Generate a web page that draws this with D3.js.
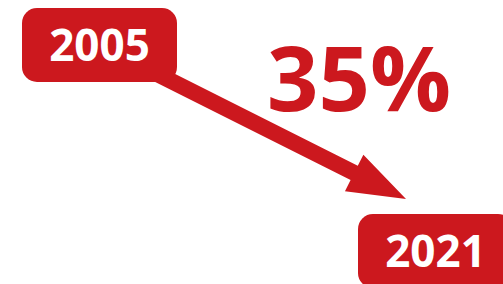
<!DOCTYPE html>
<html>
<head>
<meta charset="utf-8">
<script src="https://cdn.jsdelivr.net/npm/d3@7"></script>
<style>
  html, body { margin: 0; padding: 0; background: #fff; }
  svg { display: block; }
</style>
</head>
<body>
<div id="wrapper"></div>
<script>
// data
const years = [2005, 2021];
const yearLabels = ["2005", "2021"];
const change = [35];   // percent

const width = 503, height = 284;
const red = "#cc181e";

const boxW = 155, boxH = 74, boxR = 15;

// year -> box centre
const x = d3.scaleLinear().domain(years).range([99.5, 435.5]);
const y = d3.scaleLinear().domain(years).range([45, 251]);

const svg = d3.select("#wrapper").append("svg")
  .attr("width", width)
  .attr("height", height);

// arrow from first box centre to a point just above-left of the second box
const start = [x(years[0]), y(years[0])];
const tip = [x(years[1]) - boxW / 2 + 48, y(years[1]) - boxH / 2 - 15];

const arrowPath = (a, b) => {
  const dx = b[0] - a[0], dy = b[1] - a[1];
  const len = Math.hypot(dx, dy);
  const ux = dx / len, uy = dy / len;
  const px = -uy, py = ux;
  const sw = 8, hw = 20.5, hl = 58;
  const bx = b[0] - ux * hl, by = b[1] - uy * hl;
  const pts = [
    [a[0] + px * sw, a[1] + py * sw],
    [bx + px * sw, by + py * sw],
    [bx + px * hw, by + py * hw],
    b,
    [bx - px * hw, by - py * hw],
    [bx - px * sw, by - py * sw],
    [a[0] - px * sw, a[1] - py * sw]
  ];
  return "M" + pts.map(p => p.join(",")).join("L") + "Z";
};

svg.append("path")
  .attr("d", arrowPath(start, tip))
  .attr("fill", red);

const box = svg.append("g")
  .selectAll("g")
  .data(years)
  .join("g")
  .attr("transform", d => `translate(${x(d)},${y(d)})`);

box.append("rect")
  .attr("x", -boxW / 2)
  .attr("y", -boxH / 2)
  .attr("width", boxW)
  .attr("height", boxH)
  .attr("rx", boxR)
  .attr("fill", red);

box.append("text")
  .text((d, i) => yearLabels[i])
  .attr("text-anchor", "middle")
  .attr("y", 16)
  .style("font", "bold 44px 'Open Sans'")
  .style("fill", "white");

svg.append("text")
  .text(change[0] + "%")
  .attr("x", 267)
  .attr("y", 111)
  .style("font", "bold 90px 'Open Sans'")
  .style("fill", red);
</script>
</body>
</html>
